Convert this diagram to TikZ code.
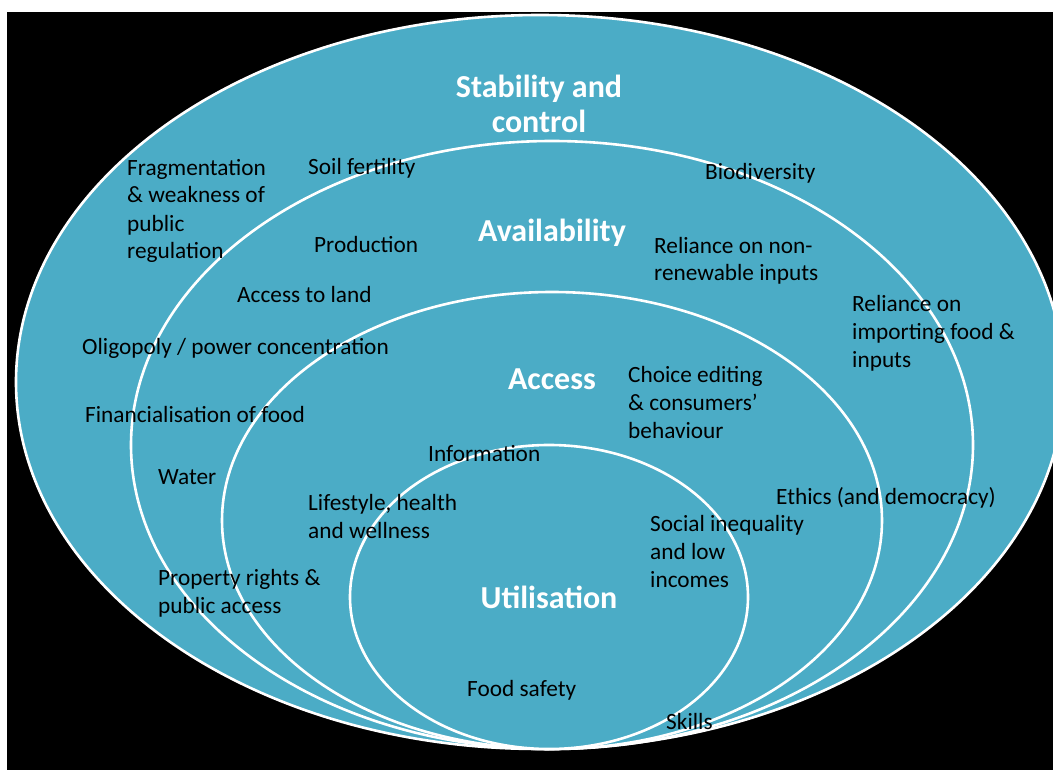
\documentclass[tikz,border=0pt]{standalone}
\usepackage{fontspec}
\setmainfont{Carlito}
\usepackage{tikz}
\usetikzlibrary{math}
\definecolor{RingTeal}{RGB}{75,172,198}
\colorlet{RingLine}{white}
\colorlet{FactorText}{black}
\tikzset{%
  pixels/.style={x=1pt,y=-1pt},
  ring/.style={fill=RingTeal, draw=RingLine, line width=2.6pt},
  factor/.style={anchor=base west, align=left, inner sep=0pt, text=FactorText,
    font=\fontsize{23.3}{28}\selectfont},
  dimension/.style={anchor=center, align=center, inner sep=0pt, text=white,
    font=\bfseries\fontsize{32}{35}\selectfont}
}

\begin{document}
\begin{tikzpicture}[pixels]
    \tikzmath{
      \yb=749;% common bottom of the rings
      \ra=524;\rb=421;\rc=330;\rd=199;% half-widths
      \ha=367;\hb=304;\hc=228.5;\hd=152;% half-heights
      \ls=28;% line pitch of the factors
    }
    \useasboundingbox (0,0) rectangle (1053,770);
    \clip (0,0) rectangle (1053,770);
    % Backdrop.
    \fill[white] (0,0) rectangle (1053,770);
    \fill[black] (7,12) rectangle (1053,770);
    % Rings, outer to inner.
    \draw[ring] (540,\yb-\ha) ellipse [x radius=\ra pt, y radius=\ha pt];
    \draw[ring] (552,\yb-\hb) ellipse [x radius=\rb pt, y radius=\hb pt];
    \draw[ring] (552,\yb-\hc) ellipse [x radius=\rc pt, y radius=\hc pt];
    \draw[ring] (549,\yb-\hd) ellipse [x radius=\rd pt, y radius=\hd pt];
    % Ring titles.
    \node[dimension] (stability) at (539,103.5) {Stability and\\control};
    \node[dimension] (availability) at (552,233) {Availability};
    \node[dimension] (access) at (552,379) {Access};
    \node[dimension] (utilisation) at (549,597) {Utilisation};
    % Stability and control (base = last line).
    \node[factor] (fragmentation) at (127,175+3*\ls) {Fragmentation\\\& weakness of\\public\\regulation};
    \node[factor] (oligopoly) at (82,354) {Oligopoly / power concentration};
    \node[factor] (financial) at (85,422) {Financialisation of food};
    \node[factor] (importing) at (852,311+2*\ls) {Reliance on\\importing food \&\\inputs};
    % Availability.
    \node[factor] (soil) at (308,175) {Soil fertility};
    \node[factor] (biodiversity) at (705,180) {Biodiversity};
    \node[factor] (production) at (314,253) {Production};
    \node[factor] (nonrenew) at (654,253+\ls) {Reliance on non-\\renewable inputs};
    \node[factor] (land) at (237,302) {Access to land};
    \node[factor] (water) at (158,484) {Water};
    \node[factor] (ethics) at (776,504) {Ethics (and democracy)};
    \node[factor] (property) at (158,585+\ls) {Property rights \&\\public access};
    % Access.
    \node[factor] (choice) at (628,382+2*\ls) {Choice editing\\\& consumers’\\behaviour};
    \node[factor] (information) at (428,461) {Information};
    \node[factor] (lifestyle) at (308,510+\ls) {Lifestyle, health\\and wellness};
    \node[factor] (social) at (650,531+2*\ls) {Social inequality\\and low\\incomes};
    % Utilisation.
    \node[factor] (safety) at (467,696) {Food safety};
    \node[factor] (skills) at (666,729) {Skills};
\end{tikzpicture}
\end{document}
